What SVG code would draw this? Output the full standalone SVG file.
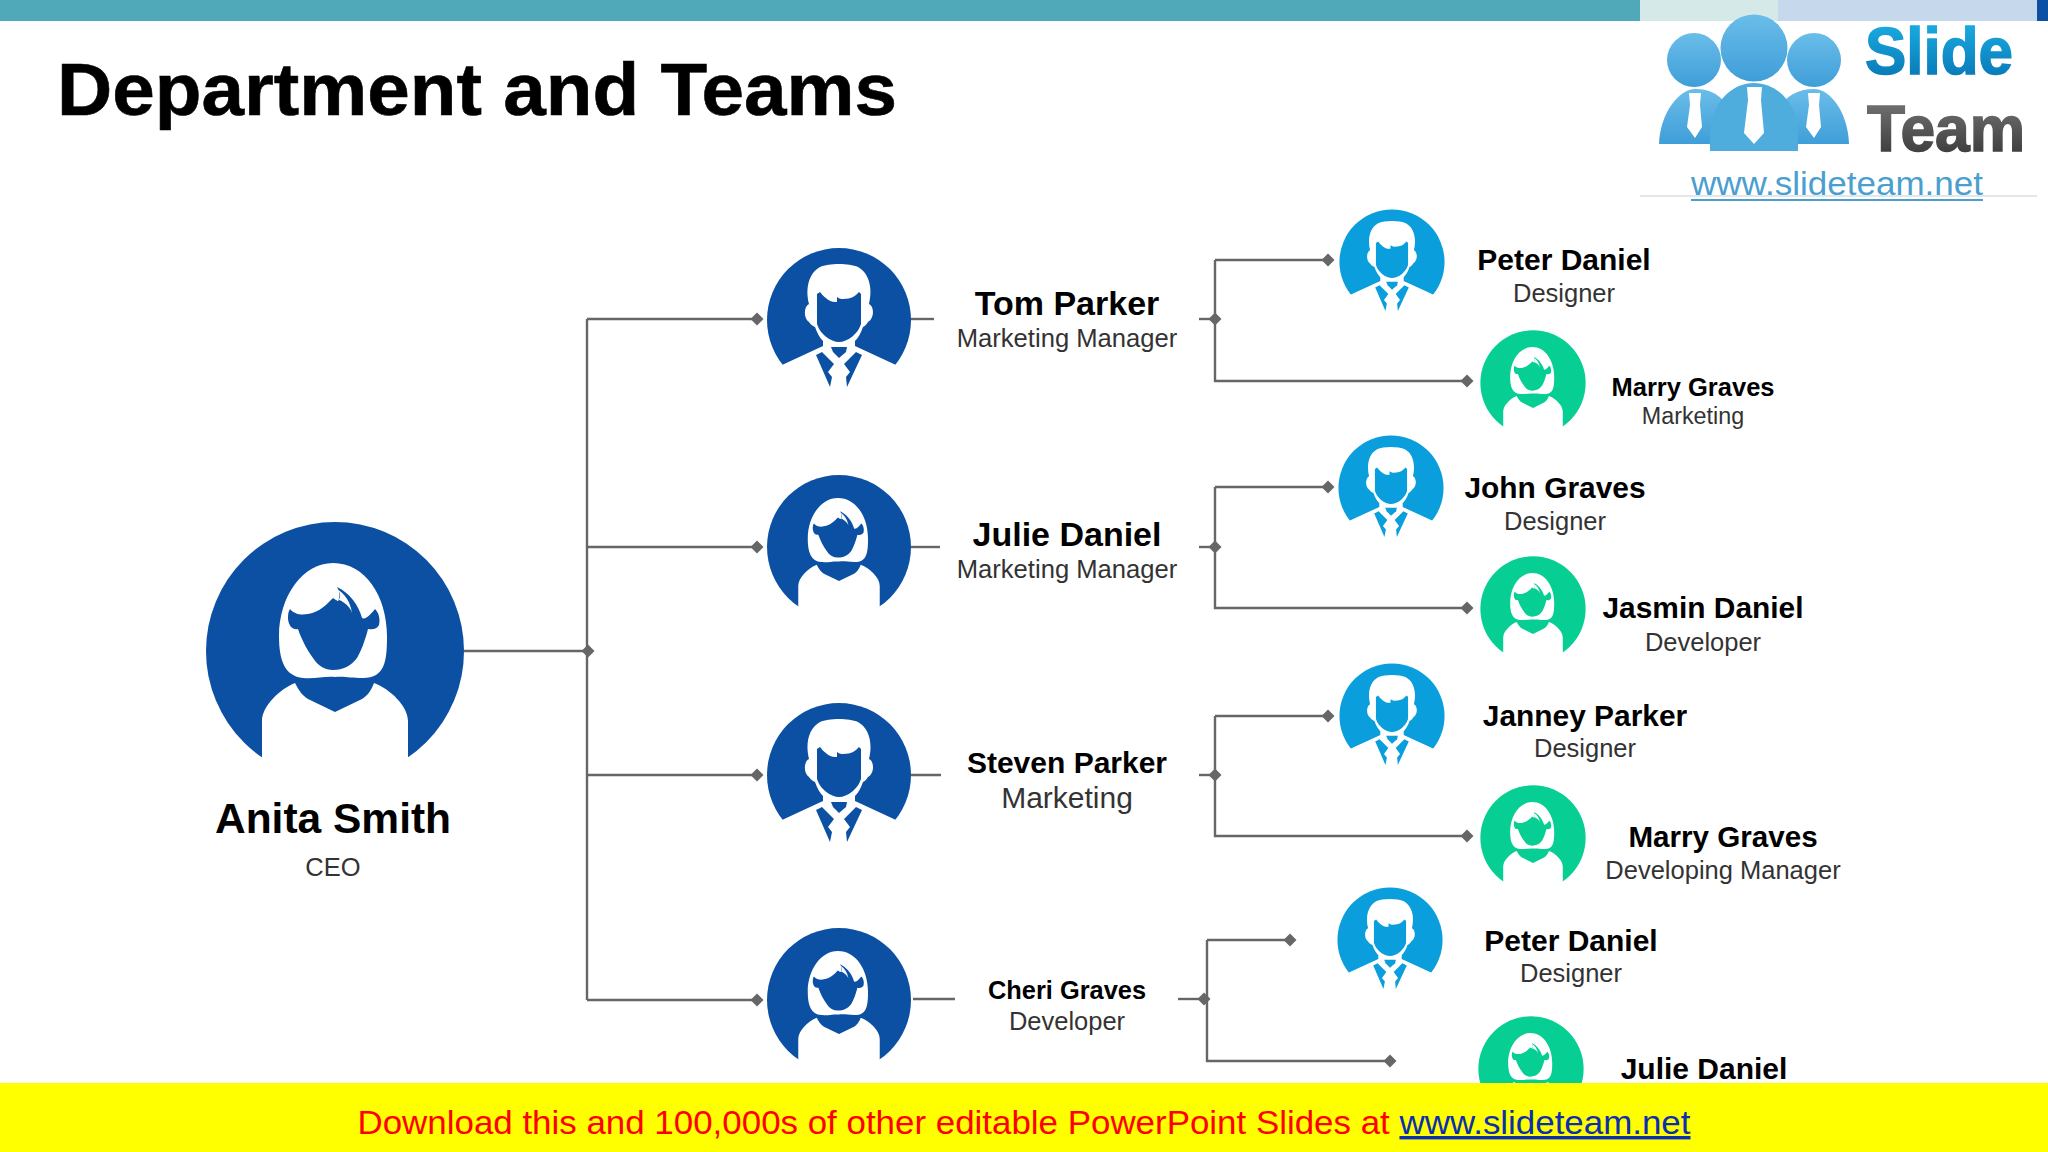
<svg xmlns="http://www.w3.org/2000/svg" xmlns:xlink="http://www.w3.org/1999/xlink" width="2048" height="1152" viewBox="0 0 2048 1152">
<style>
text{font-family:"Liberation Sans",Arial,sans-serif;text-anchor:middle}
.n{font-weight:700;fill:#000}
.s{fill:#333}
.c{fill:none;stroke:#666;stroke-width:2.4}
.d{fill:#0b50a3}.b{fill:#0a9fdc}.g{fill:#07cf94}
.w{fill:#fff}
</style>
<defs>
<marker id="dm" markerUnits="userSpaceOnUse" markerWidth="14" markerHeight="14" refX="7" refY="7" orient="auto"><path d="M7 .5L13.5 7L7 13.5L.5 7Z" fill="#666"/></marker>
<linearGradient id="gs" x1="0" y1="0" x2="0" y2="1"><stop offset="0" stop-color="#1cb4e8"/><stop offset="1" stop-color="#0670b0"/></linearGradient>
<linearGradient id="gt" x1="0" y1="0" x2="0" y2="1"><stop offset="0" stop-color="#7a7a7a"/><stop offset="1" stop-color="#333"/></linearGradient>
<linearGradient id="gp" x1="0" y1="0" x2="0" y2="1"><stop offset="0" stop-color="#6abde9"/><stop offset="1" stop-color="#3f9ed8"/></linearGradient>
<g id="male">
<circle r="72"/>
<path class="w" d="M-30-16C-34-32-30-47-19-53C-10-57 10-57 19-53C30-47 34-32 30-16C35-14 36-2 29 2C27 5 26 6 24 7C22 13 19 18 16 21V26L57 45V73H-57V45L-16 26V21C-19 18-22 13-24 7C-26 6-28 5-30 2C-36-2-35-14-30-16Z"/>
<path d="M-22-26L-19-28C-16-24-13-22-12-21C-8-18-5-18-2-18L-2-23C1-21 2-21 4-21C8-21 12-22 14-23C16-24 18-26 20-28L22-26V4C20 10 17 13 14 16C9 20 4 22 0 22C-4 22-9 20-14 16C-17 13-20 10-22 4Z"/>
<path d="M-8 27H8L7 32L0 38L-6 32Z"/>
<path d="M-23 35L-17 32L-5 44L-11 52L-7 57L-9 67Z"/>
<path d="M23 35L17 32L5 44L11 52L7 57L8 67Z"/>
</g>
<g id="female">
<circle r="129"/>
<path class="w" d="M-73 130V70C-73 55-55 38-40 32C-36 40-32 45-27 48L0 61L27 48C32 45 36 40 39 32C55 38 73 55 73 70V130Z"/>
<path class="w" d="M-2-88C30-88 52-55 52-15C52 10 50 27 28 27C15 27 10 25 0 26C-10 25-20 28-32 27C-50 25-56 10-56-15C-56-55-32-88-2-88Z"/>
<path d="M-45-42C-40-36-33-36-27-37C-15-39-8-47-2-53L3-50C6-56 4-60 2-64C15-58 24-45 27-33C31-31 36-37 40-42C45-37 45-30 44-26C42-22 38-21 33-22C30-10 26 0 22 7C16 15 8 19-2 19C-10 19-17 15-22 7C-27 0-33-10-37-22C-42-21-46-24-47-32C-47-36-47-39-45-42Z"/>
<path class="w" d="M-2-53C5-52 15-46 17-38C15-50 10-57 2-62C6-58 6-54 3-50Z"/>
</g>
</defs>
<rect width="2048" height="1152" fill="#fff"/>
<g id="header">
<rect width="1640" height="21" fill="#4fa9b8"/>
<rect x="1640" width="138" height="21" fill="#d5e9e8"/>
<rect x="1778" width="259" height="21" fill="#c6d9ec"/>
<rect x="2037" width="11" height="21" fill="#0b50a3"/>
</g>
<g id="logo">
<rect x="1640" y="21" width="397" height="174" fill="#fff"/>
<path d="M1640 196H2037" stroke="#c9ced4" stroke-width="1.2"/>
<circle cx="1694" cy="60" r="27" fill="url(#gp)"/><circle cx="1814" cy="60" r="27" fill="url(#gp)"/><circle cx="1754" cy="48" r="33.5" fill="url(#gp)"/>
<path d="M1659 144C1660 112 1680 89 1695 89C1712 89 1722 96 1730 110V144Z" fill="url(#gp)"/>
<path d="M1849 144C1848 112 1830 89 1814 89C1798 89 1785 96 1778 110V144Z" fill="url(#gp)"/>
<path d="M1710 151V132C1711 105 1730 83 1754 83C1778 83 1798 105 1798 132V151Z" fill="#4fadde"/>
<path class="w" d="M1747 87H1762L1761 100L1764 133L1754 144L1744 133L1748 100Z"/>
<path class="w" d="M1689 93H1701L1700 105L1702 127L1695 138L1687 127L1690 105Z"/>
<path class="w" d="M1808 93H1820L1819 105L1821 127L1814 138L1806 127L1809 105Z"/>
<text x="1939" y="74" font-size="66" font-weight="700" fill="url(#gs)" stroke="url(#gs)" stroke-width="1.5" textLength="148" lengthAdjust="spacingAndGlyphs">Slide</text>
<text x="1946" y="151" font-size="64" font-weight="700" fill="url(#gt)" stroke="url(#gt)" stroke-width="1.5" textLength="158" lengthAdjust="spacingAndGlyphs">Team</text>
<text x="1837" y="195" font-size="33" fill="#4a9fd0" textLength="292" lengthAdjust="spacingAndGlyphs">www.slideteam.net</text>
<path d="M1691 200H1983" stroke="#4a9fd0" stroke-width="2"/>
</g>
<text id="title" x="477" y="115" font-size="75" font-weight="700" fill="#000" stroke="#000" stroke-width=".6" textLength="840" lengthAdjust="spacingAndGlyphs">Department and Teams</text>
<g id="connectors">
<path class="c" d="M464 651H588" marker-end="url(#dm)"/>
<path class="c" d="M587 319V1000"/>
<path class="c" d="M587 319H757" marker-end="url(#dm)"/>
<path class="c" d="M587 547H757" marker-end="url(#dm)"/>
<path class="c" d="M587 775H757" marker-end="url(#dm)"/>
<path class="c" d="M587 1000H757" marker-end="url(#dm)"/>
<path class="c" d="M908 319H934"/><path class="c" d="M908 547H940"/><path class="c" d="M908 775H941"/><path class="c" d="M913 999H955"/>
<path class="c" d="M1199 319H1215" marker-end="url(#dm)"/>
<path class="c" d="M1215 260V381H1467" marker-end="url(#dm)"/><path class="c" d="M1215 260H1328" marker-end="url(#dm)"/>
<path class="c" d="M1199 547H1215" marker-end="url(#dm)"/>
<path class="c" d="M1215 487V608H1467" marker-end="url(#dm)"/><path class="c" d="M1215 487H1328" marker-end="url(#dm)"/>
<path class="c" d="M1199 775H1215" marker-end="url(#dm)"/>
<path class="c" d="M1215 716V836H1467" marker-end="url(#dm)"/><path class="c" d="M1215 716H1328" marker-end="url(#dm)"/>
<path class="c" d="M1178 999H1204" marker-end="url(#dm)"/>
<path class="c" d="M1207 940V1061H1390" marker-end="url(#dm)"/><path class="c" d="M1207 940H1290" marker-end="url(#dm)"/>
</g>
<g id="anita"><use href="#female" transform="translate(335 651)" class="d"/><text class="n" x="333" y="833" font-size="42.5">Anita Smith</text><text class="s" x="333" y="876" font-size="25.5">CEO</text></g>
<g id="tom"><use href="#male" transform="translate(839 320)" class="d"/><text class="n" x="1067" y="315" font-size="34">Tom Parker</text><text class="s" x="1067" y="347" font-size="25.6">Marketing Manager</text></g>
<g id="julie"><use href="#female" transform="translate(839 547) scale(.558)" class="d"/><text class="n" x="1067" y="546" font-size="34">Julie Daniel</text><text class="s" x="1067" y="578" font-size="25.6">Marketing Manager</text></g>
<g id="steven"><use href="#male" transform="translate(839 775)" class="d"/><text class="n" x="1067" y="773" font-size="30">Steven Parker</text><text class="s" x="1067" y="808" font-size="30">Marketing</text></g>
<g id="cheri"><use href="#female" transform="translate(839 1000) scale(.558)" class="d"/><text class="n" x="1067" y="999" font-size="25.4">Cheri Graves</text><text class="s" x="1067" y="1030" font-size="25.5">Developer</text></g>
<g id="peter1"><use href="#male" transform="translate(1392 262) scale(.73)" class="b"/><text class="n" x="1564" y="270" font-size="30">Peter Daniel</text><text class="s" x="1564" y="302" font-size="25.5">Designer</text></g>
<g id="marry1"><use href="#female" transform="translate(1533 383) scale(.408)" class="g"/><text class="n" x="1693" y="396" font-size="25.5">Marry Graves</text><text class="s" x="1693" y="424" font-size="23.3">Marketing</text></g>
<g id="john"><use href="#male" transform="translate(1391 488) scale(.73)" class="b"/><text class="n" x="1555" y="498" font-size="29.9">John Graves</text><text class="s" x="1555" y="530" font-size="25.5">Designer</text></g>
<g id="jasmin"><use href="#female" transform="translate(1533 609) scale(.408)" class="g"/><text class="n" x="1703" y="618" font-size="29.9">Jasmin Daniel</text><text class="s" x="1703" y="651" font-size="25.5">Developer</text></g>
<g id="janney"><use href="#male" transform="translate(1392 716) scale(.73)" class="b"/><text class="n" x="1585" y="726" font-size="29.9">Janney Parker</text><text class="s" x="1585" y="757" font-size="25.5">Designer</text></g>
<g id="marry2"><use href="#female" transform="translate(1533 838) scale(.408)" class="g"/><text class="n" x="1723" y="847" font-size="29.6">Marry Graves</text><text class="s" x="1723" y="879" font-size="25.5">Developing Manager</text></g>
<g id="peter2"><use href="#male" transform="translate(1390 940) scale(.73)" class="b"/><text class="n" x="1571" y="951" font-size="30">Peter Daniel</text><text class="s" x="1571" y="982" font-size="25.5">Designer</text></g>
<g id="julie2"><use href="#female" transform="translate(1531 1069) scale(.408)" class="g"/><text class="n" x="1704" y="1079" font-size="30">Julie Daniel</text></g>
<g id="footer">
<rect y="1083" width="2048" height="69" fill="#ff0"/>
<text x="1024" y="1134" font-size="34" fill="#f00" textLength="1333" lengthAdjust="spacingAndGlyphs">Download this and 100,000s of other editable PowerPoint Slides at <tspan fill="#0b2fb0" text-decoration="underline">www.slideteam.net</tspan></text>
</g>
</svg>
